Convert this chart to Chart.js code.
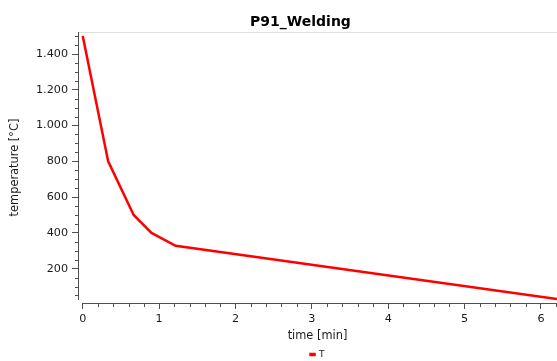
<!DOCTYPE html>
<html><head><meta charset="utf-8">
<script src="https://cdn.jsdelivr.net/npm/chart.js@4/dist/chart.umd.min.js"></script>
<style>html,body{margin:0;padding:0;background:#fff;overflow:hidden}#wrap{width:557px;height:361px}</style>
</head><body><div id="wrap"><canvas id="c" width="557" height="361"></canvas></div>
<script>
// ---- data ----
const chartTitle = 'P91_Welding';
const seriesName = 'T';
const xTitle = 'time [min]';
const yTitle = 'temperature [°C]';
const timeMin = [0, 0.333, 0.667, 0.9, 1.217, 6.21];
const temperatureC = [1500, 800, 500, 400, 328, 30];
const xTickValues = [0, 1, 2, 3, 4, 5, 6];
const xTickLabels = ['0', '1', '2', '3', '4', '5', '6'];
const yTickValues = [200, 400, 600, 800, 1000, 1200, 1400];
const yTickLabels = ['200', '400', '600', '800', '1.000', '1.200', '1.400'];
const xMinorStep = 0.2;
const yMinorStep = 50;

// ---- style ----
const FONT = 'DejaVu Sans';
const axisColor = '#505050';
const textColor = '#1a1a1a';
const X_MIN = -0.062, X_MAX = 6.21, Y_MIN = 8, Y_MAX = 1523;

const decor = {
  id: 'decor',
  afterDraw(chart) {
    const {ctx, chartArea: ca, scales: {x, y}} = chart;
    ctx.save();
    ctx.lineWidth = 1;
    // light top frame line
    ctx.strokeStyle = '#e0e0e0';
    ctx.beginPath(); ctx.moveTo(ca.left + 1, ca.top + 0.5); ctx.lineTo(ca.right, ca.top + 0.5); ctx.stroke();
    // detached axis lines
    ctx.strokeStyle = axisColor;
    ctx.beginPath(); ctx.moveTo(ca.left + 0.5, ca.top); ctx.lineTo(ca.left + 0.5, ca.bottom - 3); ctx.stroke();
    const x0 = Math.round(x.getPixelForValue(0));
    ctx.beginPath(); ctx.moveTo(x0, ca.bottom + 0.5); ctx.lineTo(ca.right, ca.bottom + 0.5); ctx.stroke();
    // minor ticks
    ctx.beginPath();
    for (let v = yMinorStep; v <= Y_MAX; v += yMinorStep) {
      if (v % 200 === 0) continue;
      const py = Math.round(y.getPixelForValue(v)) + 0.5;
      ctx.moveTo(ca.left - 3, py); ctx.lineTo(ca.left + 0.5, py);
    }
    for (let i = 1; i * xMinorStep <= X_MAX; i++) {
      if (i % 5 === 0) continue;
      const px = Math.round(x.getPixelForValue(i * xMinorStep)) + 0.5;
      ctx.moveTo(px, ca.bottom); ctx.lineTo(px, ca.bottom + 4);
    }
    ctx.stroke();
    // title
    ctx.fillStyle = '#000';
    ctx.font = 'bold 14px "' + FONT + '"';
    ctx.textAlign = 'center';
    ctx.textBaseline = 'alphabetic';
    ctx.fillText(chartTitle, 300.5, 25.5);
    ctx.restore();
  }
};

new Chart(document.getElementById('c'), {
  type: 'line',
  data: {
    datasets: [{
      label: seriesName,
      data: timeMin.map((t, i) => ({x: t, y: temperatureC[i]})),
      borderColor: '#ff0000',
      backgroundColor: '#ff0000',
      borderWidth: 2.5,
      pointRadius: 0,
      tension: 0,
      fill: false
    }]
  },
  options: {
    responsive: false,
    animation: false,
    devicePixelRatio: 1,
    layout: {padding: {top: 32, left: 0, right: 0, bottom: -8}},
    plugins: {
      title: {display: false},
      tooltip: {enabled: false},
      legend: {
        position: 'bottom',
        fullSize: false,
        labels: {boxWidth: 4, boxHeight: 1, padding: 7, color: textColor, font: {family: FONT, size: 9}}
      }
    },
    scales: {
      x: {
        type: 'linear', min: X_MIN, max: X_MAX,
        afterBuildTicks: s => { s.ticks = xTickValues.map(v => ({value: v})); },
        afterFit: s => { s.height = 40; },
        ticks: {
          autoSkip: false, maxRotation: 0, padding: 3, color: textColor,
          font: {family: FONT, size: 11.2},
          callback: v => xTickLabels[xTickValues.indexOf(v)]
        },
        grid: {drawOnChartArea: false, drawTicks: true, tickLength: 6, tickColor: axisColor},
        border: {display: false},
        title: {display: true, text: xTitle, color: textColor, font: {family: FONT, size: 11.4}, padding: {top: 0, bottom: 0.2}}
      },
      y: {
        type: 'linear', min: Y_MIN, max: Y_MAX,
        afterBuildTicks: s => { s.ticks = yTickValues.map(v => ({value: v})); },
        afterFit: s => { s.width = 78; },
        ticks: {
          autoSkip: false, padding: 4, color: textColor,
          font: {family: FONT, size: 11.2},
          callback: v => yTickLabels[yTickValues.indexOf(v)]
        },
        grid: {drawOnChartArea: false, drawTicks: true, tickLength: 6, tickColor: axisColor},
        border: {display: false},
        title: {display: true, text: yTitle, color: textColor, font: {family: FONT, size: 11.4}, padding: {top: 8, bottom: 0}}
      }
    }
  },
  plugins: [decor]
});
</script>
</body></html>
